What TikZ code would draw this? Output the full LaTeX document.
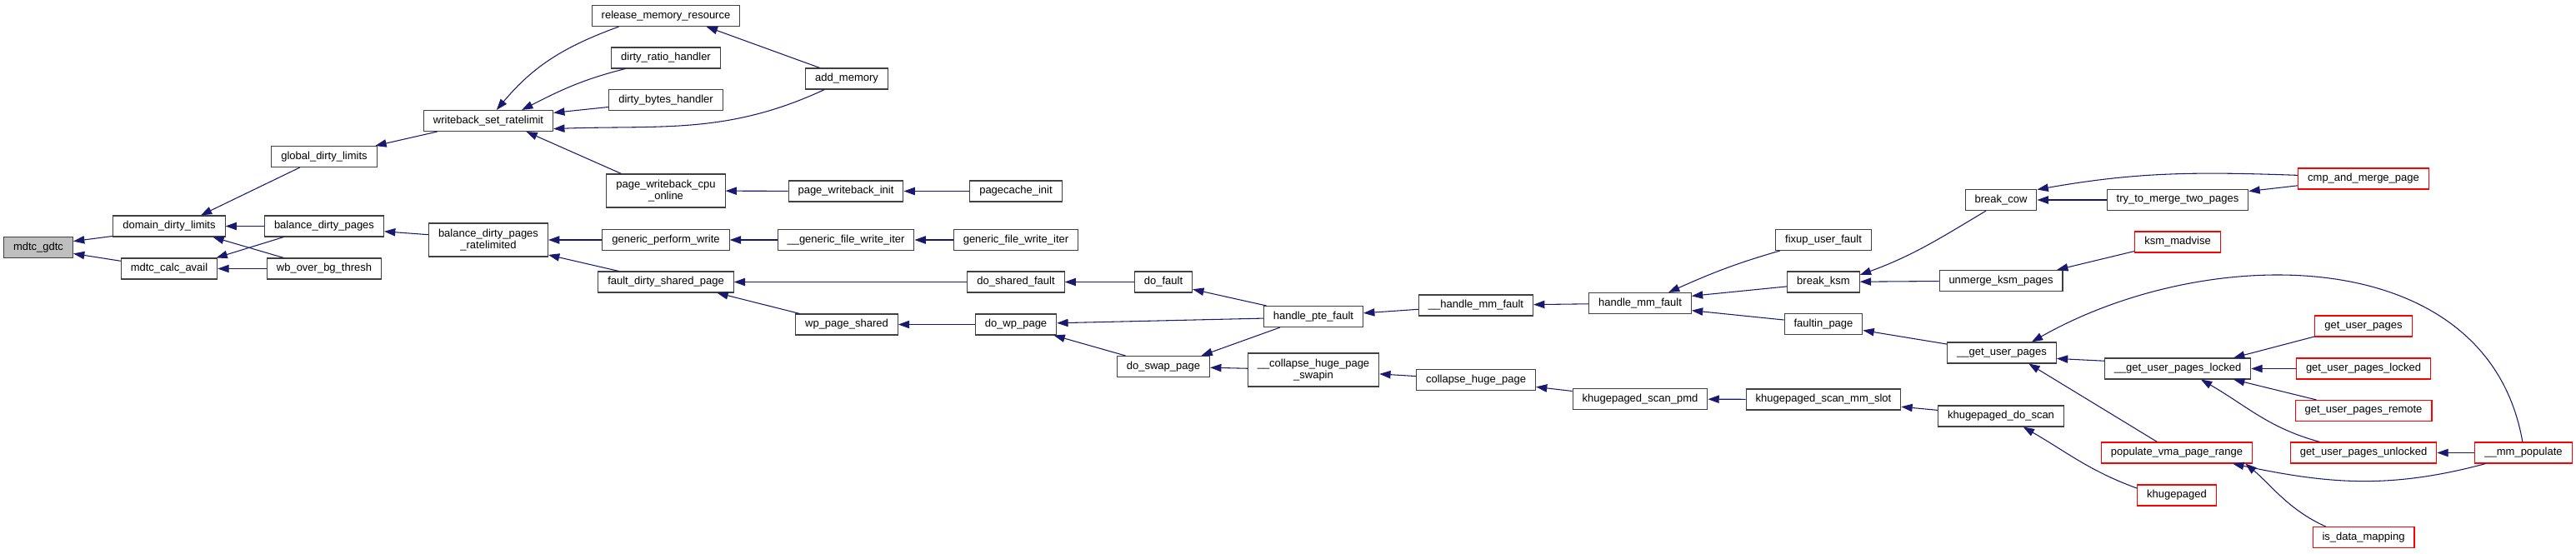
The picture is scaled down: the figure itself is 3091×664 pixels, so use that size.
\documentclass[tikz,border=0pt]{standalone}
\usepackage{fontspec}
\setmainfont{Liberation Sans}
\usepackage{tikz}
\usetikzlibrary{arrows.meta}
\definecolor{edgeblue}{RGB}{25,25,112}
\definecolor{rootgray}{RGB}{191,191,191}
\newcommand\cgfont{\fontsize{9.75pt}{11pt}\selectfont}

\begin{document}
\begin{tikzpicture}[
  x=0.75pt, y=0.75pt,
  fn/.style={draw=black!75, line width=0.8pt, fill=white, font=\cgfont, inner xsep=8.6pt, inner ysep=0pt, minimum height=18.75pt},
  fn2/.style={fn, align=center, minimum height=30pt},
  root/.style={fn, fill=rootgray},
  ext/.style={fn, draw=red},
  call/.style={draw=edgeblue, line width=0.8pt, -{Triangle[length=10pt,width=7pt]}},
]
\useasboundingbox (0,0) rectangle (3091,-664);

% functions, one column per call depth
\node[root] (gdtc) at (46,-297) {mdtc\_gdtc};
\node[fn] (domain) at (203,-271.5) {domain\_dirty\_limits};
\node[fn] (calcavail) at (203,-322.5) {mdtc\_calc\_avail};
\node[fn] (global) at (389,-188) {global\_dirty\_limits};
\node[fn] (balance) at (389,-271.5) {balance\_dirty\_pages};
\node[fn] (wbover) at (389,-322.5) {wb\_over\_bg\_thresh};
\node[fn] (setrate) at (586,-145) {writeback\_set\_ratelimit};
\node[fn2] (ratelim) at (586,-288) {balance\_dirty\_pages\\\_ratelimited};
\node[fn] (release) at (799,-19) {release\_memory\_resource};
\node[fn] (ratio) at (799,-69.5) {dirty\_ratio\_handler};
\node[fn] (bytes) at (799,-120) {dirty\_bytes\_handler};
\node[fn2] (cpuonline) at (799,-229) {page\_writeback\_cpu\\\_online};
\node[fn] (perfwrite) at (799,-288) {generic\_perform\_write};
\node[fn] (faultdirty) at (799,-338.5) {fault\_dirty\_shared\_page};
\node[fn] (addmem) at (1016,-94.5) {add\_memory};
\node[fn] (wbinit) at (1015,-229.5) {page\_writeback\_init};
\node[fn] (gfwiu) at (1015,-288) {\_\_generic\_file\_write\_iter};
\node[fn] (wpshared) at (1016,-389.5) {wp\_page\_shared};
\node[fn] (pcinit) at (1219,-229.5) {pagecache\_init};
\node[fn] (gfwi) at (1219,-288) {generic\_file\_write\_iter};
\node[fn] (doshared) at (1219,-338.5) {do\_shared\_fault};
\node[fn] (dowp) at (1219,-389.5) {do\_wp\_page};
\node[fn] (dofault) at (1396,-338.5) {do\_fault};
\node[fn] (doswap) at (1396,-440) {do\_swap\_page};
\node[fn] (pte) at (1576,-380) {handle\_pte\_fault};
\node[fn2] (swapin) at (1576,-444) {\_\_collapse\_huge\_page\\\_swapin};
\node[fn] (hmmu) at (1771,-366.5) {\_\_handle\_mm\_fault};
\node[fn] (collapse) at (1771,-456) {collapse\_huge\_page};
\node[fn] (hmm) at (1968,-364) {handle\_mm\_fault};
\node[fn] (scanpmd) at (1968,-479) {khugepaged\_scan\_pmd};
\node[fn] (fixup) at (2188,-288) {fixup\_user\_fault};
\node[fn] (breakksm) at (2188,-338.5) {break\_ksm};
\node[fn] (faultin) at (2188,-389) {faultin\_page};
\node[fn] (scanslot) at (2188,-479.5) {khugepaged\_scan\_mm\_slot};
\node[fn] (breakcow) at (2401,-240) {break\_cow};
\node[fn] (unmerge) at (2401,-337) {unmerge\_ksm\_pages};
\node[fn] (gupint) at (2402,-423.5) {\_\_get\_user\_pages};
\node[fn] (doscan) at (2401,-499.5) {khugepaged\_do\_scan};
\node[fn] (trymerge) at (2613,-240) {try\_to\_merge\_two\_pages};
\node[ext] (madvise) at (2613,-290.5) {ksm\_madvise};
\node[fn] (guplint) at (2613,-442.5) {\_\_get\_user\_pages\_locked};
\node[ext] (populate) at (2612,-543.5) {populate\_vma\_page\_range};
\node[ext] (khugepaged) at (2612,-594.5) {khugepaged};
\node[ext] (cmpmerge) at (2836,-214.5) {cmp\_and\_merge\_page};
\node[ext] (gup) at (2836,-391.5) {get\_user\_pages};
\node[ext] (gupl) at (2836,-442.5) {get\_user\_pages\_locked};
\node[ext] (gupr) at (2836,-493) {get\_user\_pages\_remote};
\node[ext] (gupun) at (2836,-543.5) {get\_user\_pages\_unlocked};
\node[ext] (isdata) at (2836,-645) {is\_data\_mapping};
\node[ext] (mmpop) at (3028,-543.5) {\_\_mm\_populate};

% callers point back to their callees
\draw[call] (domain.190) -- (gdtc.10);
\draw[call] (calcavail.171) -- (gdtc.-10);
\draw[call] (global.204) -- (domain.19);
\draw[call] (balance) -- (domain);
\draw[call] (wbover.165) -- (domain.-14);
\draw[call] (balance.195) -- (calcavail.13);
\draw[call] (wbover) -- (calcavail);
\draw[call] (setrate.192) -- (global.12);
\draw[call] (ratelim.175) -- (balance.-5);
\draw[call] (release.193) to[out=200,in=50] (setrate.53);
\draw[call] (ratio.195) to[out=194,in=27] (setrate.18);
\draw[call] (bytes.187) -- (setrate.7);
\draw[call] (addmem.206) to[out=205,in=2] (setrate.-7);
\draw[call] (cpuonline.159) -- (setrate.-16);
\draw[call] (addmem.158) -- (release.-15);
\draw[call] (wbinit) -- (cpuonline);
\draw[call] (pcinit) -- (wbinit);
\draw[call] (perfwrite) -- (ratelim);
\draw[call] (faultdirty.167) -- (ratelim.-14);
\draw[call] (gfwiu) -- (perfwrite);
\draw[call] (gfwi) -- (gfwiu);
\draw[call] (doshared) -- (faultdirty);
\draw[call] (wpshared.167) -- (faultdirty.-12);
\draw[call] (dofault) -- (doshared);
\draw[call] (dowp) -- (wpshared);
\draw[call] (pte.167) -- (dofault.-14);
\draw[call] (pte.182) -- (dowp.2);
\draw[call] (doswap.164) -- (dowp.-16);
\draw[call] (pte.198) -- (doswap.16);
\draw[call] (swapin) -- (doswap);
\draw[call] (hmmu) -- (pte);
\draw[call] (collapse) -- (swapin);
\draw[call] (hmm) -- (hmmu);
\draw[call] (scanpmd) -- (collapse);
\draw[call] (fixup.194) to[out=196,in=24] (hmm.21);
\draw[call] (breakksm.187) -- (hmm.8);
\draw[call] (faultin.174) -- (hmm.-8);
\draw[call] (scanslot) -- (scanpmd);
\draw[call] (breakcow.216) to[out=211,in=20] (breakksm.11);
\draw[call] (unmerge) -- (breakksm);
\draw[call] (gupint.171) -- (faultin.-9);
\draw[call] (doscan) -- (scanslot);
\draw[call] (cmpmerge.177) to[out=178,in=10] (breakcow.16);
\draw[call] (trymerge) -- (breakcow);
\draw[call] (madvise.192) -- (unmerge.11);
\draw[call] (mmpop.95) .. controls (2985,-290) and (2650,-290) .. (gupint.20);
\draw[call] (guplint.174) -- (gupint.-6);
\draw[call] (populate.151) -- (gupint.-22);
\draw[call] (khugepaged.170) to[out=160,in=-30] (doscan.-26);
\draw[call] (cmpmerge.186) -- (trymerge.7);
\draw[call] (gup.192) -- (guplint.11);
\draw[call] (gupl) -- (guplint);
\draw[call] (gupr.167) -- (guplint.-11);
\draw[call] (gupun.166) to[out=165,in=-30] (guplint.-25);
\draw[call] (mmpop.196) to[out=195,in=-12] (populate.-11);
\draw[call] (isdata.164) .. controls (2746,-612) and (2724,-581) .. (populate.-9);
\draw[call] (mmpop) -- (gupun);
\end{tikzpicture}
\end{document}
